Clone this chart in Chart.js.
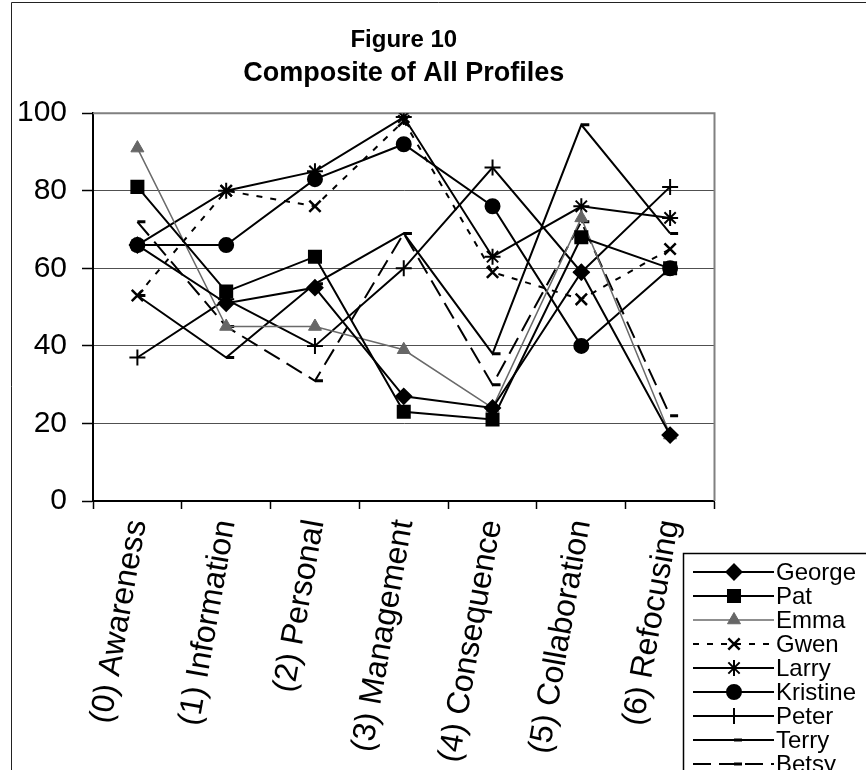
<!DOCTYPE html>
<html>
<head>
<meta charset="utf-8">
<script src="https://cdn.jsdelivr.net/npm/chart.js@4.4.1/dist/chart.umd.min.js"></script>
<style>
  html, body { margin: 0; padding: 0; background: #fff; }
  canvas { display: block; }
</style>
</head>
<body>
<canvas id="chart" width="866" height="770"></canvas>
<script>
// Concern stages (x categories) and the value axis ticks
const stages = ['(0) Awareness', '(1) Information', '(2) Personal', '(3) Management',
                '(4) Consequence', '(5) Collaboration', '(6) Refocusing'];
const yTicks = [0, 20, 40, 60, 80, 100];

// Profile percentiles per person, one value per stage
const george   = [66, 51, 55, 27, 24, 59, 17];
const pat      = [81, 54, 63, 23, 21, 68, 60];
const emma     = [91, 45, 45, 39, 24, 73, 17];
const gwen     = [53, 80, 76, 98, 59, 52, 65];
const larry    = [66, 80, 85, 99, 63, 76, 73];
const kristine = [66, 66, 83, 92, 76, 40, 60];
const peter    = [37, 52, 40, 60, 86, 59, 81];
const terry    = [53, 37, 56, 69, 38, 97, 69];
const betsy    = [72, 45, 31, 69, 30, 72, 22];

const FONT = "'Liberation Sans', Arial, sans-serif";

function series(label, data, style) {
  return Object.assign({
    label, data,
    borderColor: '#000', backgroundColor: '#000',
    pointBackgroundColor: '#000', pointBorderColor: '#000',
    borderWidth: 2, pointBorderWidth: 2, pointRadius: 7,
    tension: 0, fill: false
  }, style);
}

const datasets = [
  series('George', george, { pointStyle: 'rectRot', pointRadius: 7.5 }),
  series('Pat', pat, { pointStyle: 'rect', pointRadius: 8.5 }),
  series('Emma', emma, { pointStyle: 'triangle', pointRadius: 7.5, borderColor: '#6a6a6a',
    borderWidth: 1.5, pointBackgroundColor: '#666', pointBorderColor: '#666', pointBorderWidth: 1 }),
  series('Gwen', gwen, { pointStyle: 'crossRot', pointRadius: 8, borderDash: [6, 8], pointBorderWidth: 2.5 }),
  series('Larry', larry, { pointStyle: 'star', pointRadius: 8 }),
  series('Kristine', kristine, { pointStyle: 'circle', pointRadius: 7 }),
  series('Peter', peter, { pointStyle: 'cross', pointRadius: 8 }),
  series('Terry', terry, { pointStyle: 'dash', pointRadius: 8, pointBorderWidth: 3 }),
  series('Betsy', betsy, { pointStyle: 'dash', pointRadius: 8, pointBorderWidth: 3, borderDash: [18, 8] })
];

// Page frame plus the grey border on the top and right of the plot area
const framePlugin = {
  id: 'frame',
  beforeDatasetsDraw(chart) {
    const { ctx, chartArea: a } = chart;
    ctx.save();
    ctx.strokeStyle = '#808080';
    ctx.lineWidth = 2;
    ctx.beginPath();
    ctx.moveTo(a.left, a.top);
    ctx.lineTo(a.right, a.top);
    ctx.lineTo(a.right, a.bottom);
    ctx.stroke();
    ctx.strokeStyle = '#222';
    ctx.lineWidth = 1;
    ctx.beginPath();
    ctx.moveTo(11.5, 770);
    ctx.lineTo(11.5, 2.5);
    ctx.lineTo(866, 2.5);
    ctx.stroke();
    ctx.restore();
  }
};

// Boxed legend in the lower right corner, styled from each dataset
const boxLegendPlugin = {
  id: 'boxLegend',
  afterDraw(chart) {
    const ctx = chart.ctx;
    const x0 = 683, y0 = 553, rowH = 24, firstY = 572;
    ctx.save();
    ctx.fillStyle = '#fff';
    ctx.fillRect(x0, y0, 866 - x0, 770 - y0);
    ctx.strokeStyle = '#000';
    ctx.lineWidth = 1.5;
    ctx.strokeRect(x0 + 0.5, y0 + 0.5, 866 - x0 + 10, 770 - y0 + 10);
    chart.data.datasets.forEach((ds, i) => {
      const y = firstY + i * rowH;
      ctx.strokeStyle = ds.borderColor;
      ctx.lineWidth = ds.borderWidth;
      ctx.setLineDash(ds.borderDash || []);
      ctx.beginPath();
      ctx.moveTo(693, y);
      ctx.lineTo(774, y);
      ctx.stroke();
      ctx.setLineDash([]);
      ctx.fillStyle = ds.pointBackgroundColor;
      ctx.strokeStyle = ds.pointBorderColor;
      ctx.lineWidth = ds.pointBorderWidth;
      Chart.helpers.drawPoint(ctx, {
        pointStyle: ds.pointStyle, rotation: 0,
        radius: ds.pointRadius, borderWidth: ds.pointBorderWidth
      }, 734, y);
      ctx.fillStyle = '#000';
      ctx.font = '24px ' + FONT;
      ctx.textBaseline = 'middle';
      ctx.textAlign = 'left';
      ctx.fillText(ds.label, 776, y + 1);
    });
    ctx.restore();
  }
};

new Chart(document.getElementById('chart'), {
  type: 'line',
  data: { labels: stages, datasets },
  options: {
    responsive: false,
    animation: false,
    devicePixelRatio: 1,
    layout: { padding: { left: 0, right: 151.5, top: 0, bottom: 0 } },
    plugins: {
      legend: { display: false },
      tooltip: { enabled: false },
      title: {
        display: true, text: 'Figure 10', color: '#000', fullSize: false,
        font: { family: FONT, size: 24, weight: 'bold' },
        padding: { top: 26, bottom: 3 }
      },
      subtitle: {
        display: true, text: 'Composite of All Profiles', color: '#000', fullSize: false,
        font: { family: FONT, size: 27, weight: 'bold' },
        padding: { top: 0, bottom: 23 }
      }
    },
    scales: {
      x: {
        type: 'category',
        offset: true,
        grid: { display: true, offset: true, drawOnChartArea: false, drawTicks: true,
                tickLength: 8, tickColor: '#000', tickWidth: 1.5 },
        border: { display: true, color: '#000', width: 2 },
        ticks: {
          color: '#000', autoSkip: false, minRotation: 80, maxRotation: 80, padding: 8,
          font: { family: FONT, size: 32 }
        },
        afterFit(scale) { scale.height = 269; }
      },
      y: {
        min: 0, max: 100,
        afterBuildTicks(scale) { scale.ticks = yTicks.map(v => ({ value: v })); },
        grid: {
          color: ctx => (ctx.tick.value === 0 || ctx.tick.value === 100) ? 'rgba(0,0,0,0)' : '#505050',
          lineWidth: 1,
          tickColor: '#000', tickLength: 11, tickWidth: 1.5, drawTicks: true
        },
        border: { display: true, color: '#000', width: 2 },
        ticks: { color: '#000', padding: 15, font: { family: FONT, size: 30 } },
        afterFit(scale) { scale.width = 93; }
      }
    }
  },
  plugins: [framePlugin, boxLegendPlugin]
});
</script>
</body>
</html>
